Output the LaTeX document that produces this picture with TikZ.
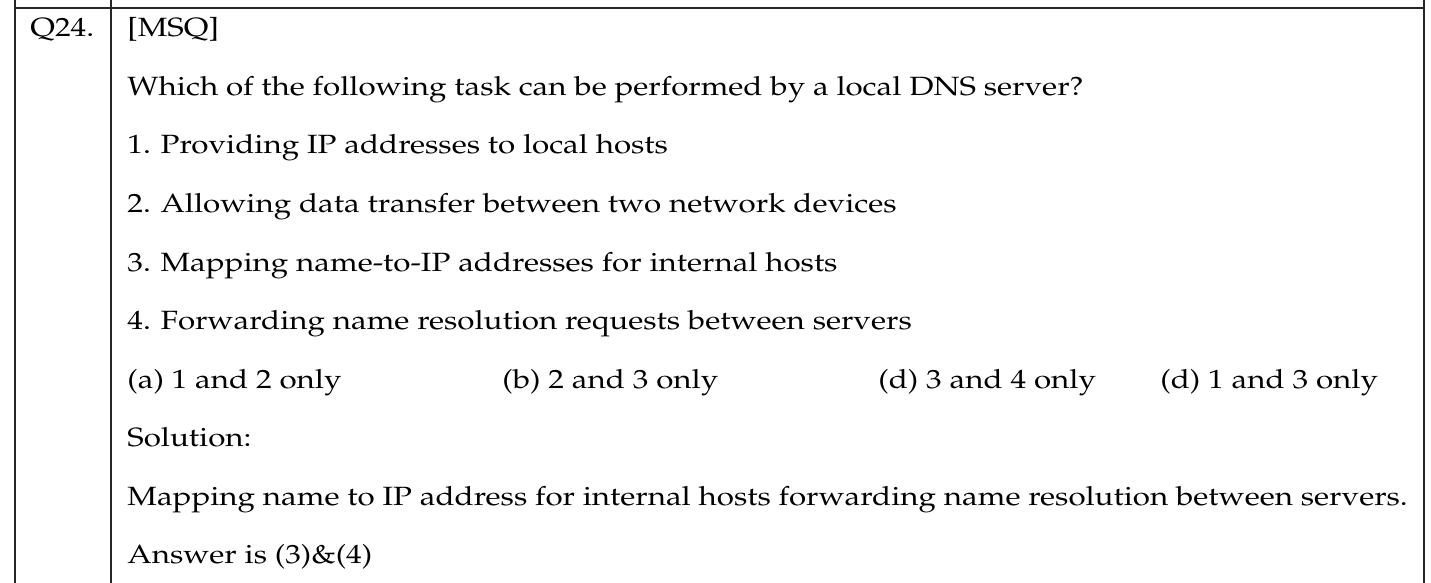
\documentclass[tikz,border=0pt]{standalone}
\usepackage[T1]{fontenc}
\usepackage{mathpazo}
\usepackage{graphicx}
\newcommand\xwide[1]{\scalebox{1.187}[1]{#1}}
\begin{document}
\begin{tikzpicture}[x=0.5pt,y=-0.5pt,
  txt/.style={anchor=base west,inner sep=0pt,font=\fontsize{13.2}{16}\selectfont},
  rule/.style={line width=1pt,draw=black!85}]
\useasboundingbox (0,0) rectangle (1431,583);
\coordinate (tl) at (15,8);
\coordinate (tr) at (1424,8);
\coordinate (l0) at (15,0);  \coordinate (l1) at (15,583);
\coordinate (m0) at (111,0); \coordinate (m1) at (111,583);
\coordinate (r0) at (1424,0);\coordinate (r1) at (1424,583);
\draw[rule] (tl) -- (tr);
\draw[rule] (l0) -- (l1);
\draw[rule] (m0) -- (m1);
\draw[rule] (r0) -- (r1);
\node[txt] (q) at (30,37) {\xwide{Q24.}};
\node[txt] (t0) at (127,37) {\xwide{[MSQ]}};
\node[txt] (t1) at (127,95.5) {\xwide{Which of the following task can be performed by a local DNS server?}};
\node[txt] (t2) at (127,154) {\xwide{1. Providing IP addresses to local hosts}};
\node[txt] (t3) at (127,212.5) {\xwide{2. Allowing data transfer between two network devices}};
\node[txt] (t4) at (127,271) {\xwide{3. Mapping name-to-IP addresses for internal hosts}};
\node[txt] (t5) at (127,329.5) {\xwide{4. Forwarding name resolution requests between servers}};
\node[txt] (oa) at (127,388) {\xwide{(a) 1 and 2 only}};
\node[txt] (ob) at (502,388) {\xwide{(b) 2 and 3 only}};
\node[txt] (oc) at (878,388) {\xwide{(d) 3 and 4 only}};
\node[txt] (od) at (1160,388) {\xwide{(d) 1 and 3 only}};
\node[txt] (s0) at (127,446.5) {\xwide{Solution:}};
\node[txt] (s1) at (127,505) {\xwide{Mapping name to IP address for internal hosts forwarding name resolution between servers.}};
\node[txt] (s2) at (127,563.5) {\xwide{Answer is (3)\&(4)}};
\end{tikzpicture}
\end{document}
